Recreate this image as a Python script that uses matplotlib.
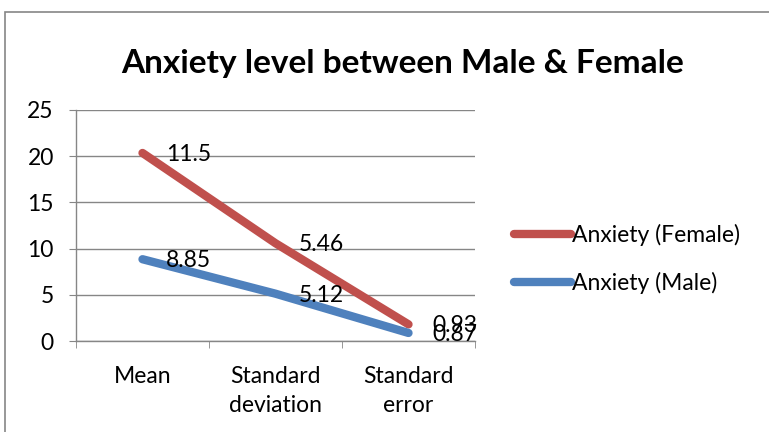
#stacked line chart of anxiety scores, excel style

import matplotlib.pyplot as plt
import numpy as np
from matplotlib.patches import Rectangle

categories = ["Mean", "Standard\ndeviation", "Standard\nerror"]
male = [8.85, 5.12, 0.87]
female = [11.5, 5.46, 0.93]
series_names = ["Anxiety (Female)", "Anxiety (Male)"]
yticks = [0, 5, 10, 15, 20, 25]

plt.rcParams['font.family'] = ['Lato', 'DejaVu Sans']
fs = 16.5

fig = plt.figure(figsize=(7.69, 4.32), dpi=100)
ax = fig.add_axes([76/769, 1-341/432, 399/769, 231/432])

# outer border of the chart area
fig.patches.append(Rectangle((5/769, -0.05), 1.1, 1.05-12/432, transform=fig.transFigure,
	fill=False, edgecolor='#868686', linewidth=1.2))

x = np.arange(len(categories))
male_arr = np.array(male)
female_top = male_arr + np.array(female)

lf, = ax.plot(x, female_top, color='#C0504D', linewidth=6, solid_capstyle='round')
lm, = ax.plot(x, male_arr, color='#4F81BD', linewidth=6, solid_capstyle='round')

for xi, yi, v in zip(x, female_top, female):
	ax.annotate("%g" % v, (xi, yi), xytext=(17, -1), textcoords='offset points',
		ha='left', va='center', fontsize=fs)
for xi, yi, v in zip(x, male_arr, male):
	ax.annotate("%g" % v, (xi, yi), xytext=(17, -1), textcoords='offset points',
		ha='left', va='center', fontsize=fs)

ax.set_xlim(-0.5, len(categories)-0.5)
ax.set_ylim(0, 25)
ax.set_yticks(yticks)
ax.set_xticks(x)
ax.set_xticklabels(categories, fontsize=fs, linespacing=1.45)
ax.set_xticks(np.arange(len(categories)+1) - 0.5, minor=True)
ax.tick_params(axis='x', which='major', length=0, pad=18)
ax.tick_params(axis='x', which='minor', length=5, color='#868686', direction='out')
ax.tick_params(axis='y', length=5, color='#868686', labelsize=fs, pad=11)
ax.grid(axis='y', color='#868686', linewidth=1)
ax.set_axisbelow(True)
for s in ['top', 'right']:
	ax.spines[s].set_visible(False)
for s in ['left', 'bottom']:
	ax.spines[s].set_color('#868686')
	ax.spines[s].set_linewidth(1)

fig.text(403/769, 1-63/432, "Anxiety level between Male & Female", ha='center', va='center',
	fontsize=24, fontweight='bold')

fig.legend([lf, lm], series_names, loc='center left', bbox_to_anchor=(493/769, 1-259/432),
	frameon=False, fontsize=fs, handlelength=2.5, handletextpad=0.05, labelspacing=1.1)

plt.savefig("out.png")
